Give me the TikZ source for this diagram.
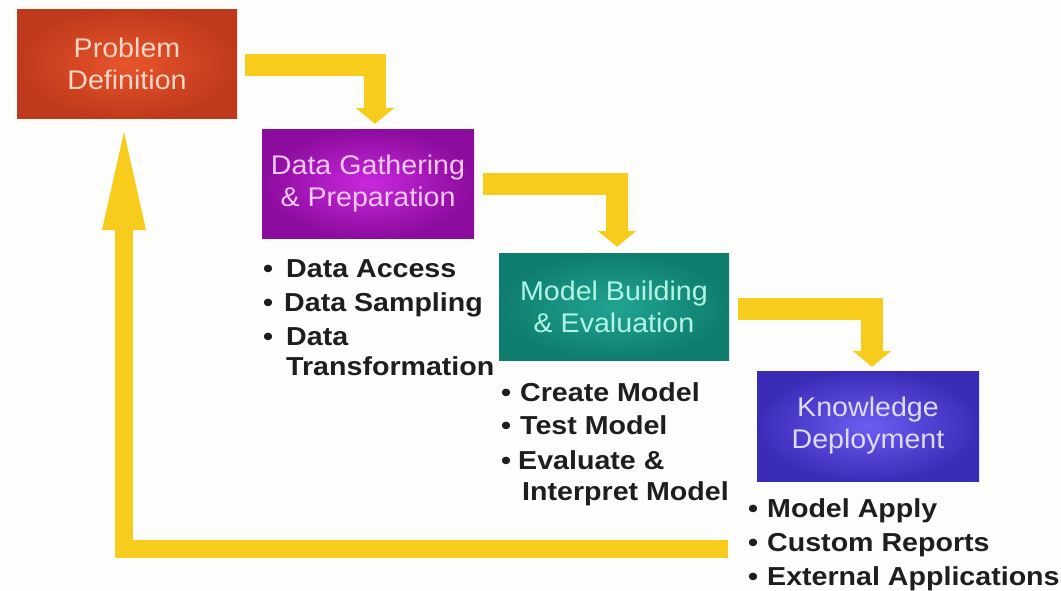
\documentclass[tikz,border=0pt]{standalone}
\usepackage{fontspec}
\usetikzlibrary{arrows.meta}
\newfontfamily\boxfont[FakeStretch=1.06]{Liberation Sans}
\newfontfamily\listfont[FakeStretch=1.1]{Liberation Sans}
\definecolor{bg}{RGB}{253,253,251}
\definecolor{arrowy}{RGB}{247,204,28}
\definecolor{pdout}{RGB}{191,58,28}
\definecolor{pdin}{RGB}{232,84,42}
\definecolor{pdtxt}{RGB}{246,214,196}
\definecolor{dgout}{RGB}{140,12,158}
\definecolor{dgin}{RGB}{200,40,220}
\definecolor{dgtxt}{RGB}{244,200,244}
\definecolor{mbout}{RGB}{15,125,109}
\definecolor{mbin}{RGB}{34,164,147}
\definecolor{mbtxt}{RGB}{176,244,230}
\definecolor{kdout}{RGB}{59,44,184}
\definecolor{kdin}{RGB}{107,94,240}
\definecolor{kdtxt}{RGB}{220,220,255}
\definecolor{listtxt}{RGB}{30,30,30}
\tikzset{
  stagebox/.style={rectangle, inner sep=0pt, align=center,
    font=\boxfont\fontsize{27}{32}\selectfont},
  flowarrow/.style={draw=arrowy, line width=22pt, line join=miter,
    -{Triangle[width=38pt,length=16pt]}},
  backarrow/.style={draw=arrowy, line width=18pt, line join=miter,
    -{Triangle[width=38pt,length=110pt]}},
  bul/.style={anchor=base west, inner sep=0pt, text=listtxt,
    font=\listfont\bfseries\fontsize{26}{30}\selectfont},
  itemtext/.style={bul},
}
\begin{document}
\begin{tikzpicture}[x=1pt,y=-1pt]
\fill[bg] (0,0) rectangle (1061,590);
\useasboundingbox (0,0) rectangle (1061,590);

\node[stagebox, minimum width=220pt, minimum height=109pt,
  inner color=pdin, outer color=pdout, text=pdtxt] (PD) at (127,63.5)
  {Problem\\Definition};
\node[stagebox, minimum width=212pt, minimum height=109pt,
  inner color=dgin, outer color=dgout, text=dgtxt] (DG) at (368,183.5)
  {Data Gathering\\\& Preparation};
\node[stagebox, minimum width=230pt, minimum height=107pt,
  inner color=mbin, outer color=mbout, text=mbtxt] (MB) at (614,306.5)
  {Model Building\\\& Evaluation};
\node[stagebox, minimum width=222pt, minimum height=110pt,
  inner color=kdin, outer color=kdout, text=kdtxt] (KD) at (868,426)
  {Knowledge\\Deployment};

% list 1
\node[bul] (b1a) at (263,277) {•};
\node[itemtext] (t1a) at (286,277) {Data Access};
\node[bul] (b1b) at (263,311) {•};
\node[itemtext] (t1b) at (284,311) {Data Sampling};
\node[bul] (b1c) at (263,345) {•};
\node[itemtext] (t1c) at (286,345) {Data};
\node[itemtext] (t1d) at (286,375) {Transformation};
% list 2
\node[bul] (b2a) at (501,401) {•};
\node[itemtext] (t2a) at (520,401) {Create Model};
\node[bul] (b2b) at (501,434) {•};
\node[itemtext] (t2b) at (520,434) {Test Model};
\node[bul] (b2c) at (501,469) {•};
\node[itemtext] (t2c) at (518,469) {Evaluate \&};
\node[itemtext] (t2d) at (522,500) {Interpret Model};
% list 3
\node[bul] (b3a) at (748,517) {•};
\node[itemtext] (t3a) at (767,517) {Model Apply};
\node[bul] (b3b) at (748,551) {•};
\node[itemtext] (t3b) at (767,551) {Custom Reports};
\node[bul] (b3c) at (748,585) {•};
\node[itemtext] (t3c) at (767,585) {External Applications};

% connectors
\draw[flowarrow] ([xshift=8pt,yshift=-1.5pt]PD.east) -| ([xshift=7pt,yshift=5pt]DG.north);
\draw[flowarrow] ([xshift=9pt,yshift=-0.5pt]DG.east) -| ([xshift=3pt,yshift=6pt]MB.north);
\draw[flowarrow] ([xshift=9pt,yshift=-2.5pt]MB.east) -| ([xshift=4pt,yshift=4pt]KD.north);
\coordinate (fbstart) at (728,548.5);
\draw[backarrow] (fbstart) -| ([xshift=-3pt,yshift=-2pt]PD.south);
\end{tikzpicture}
\end{document}
